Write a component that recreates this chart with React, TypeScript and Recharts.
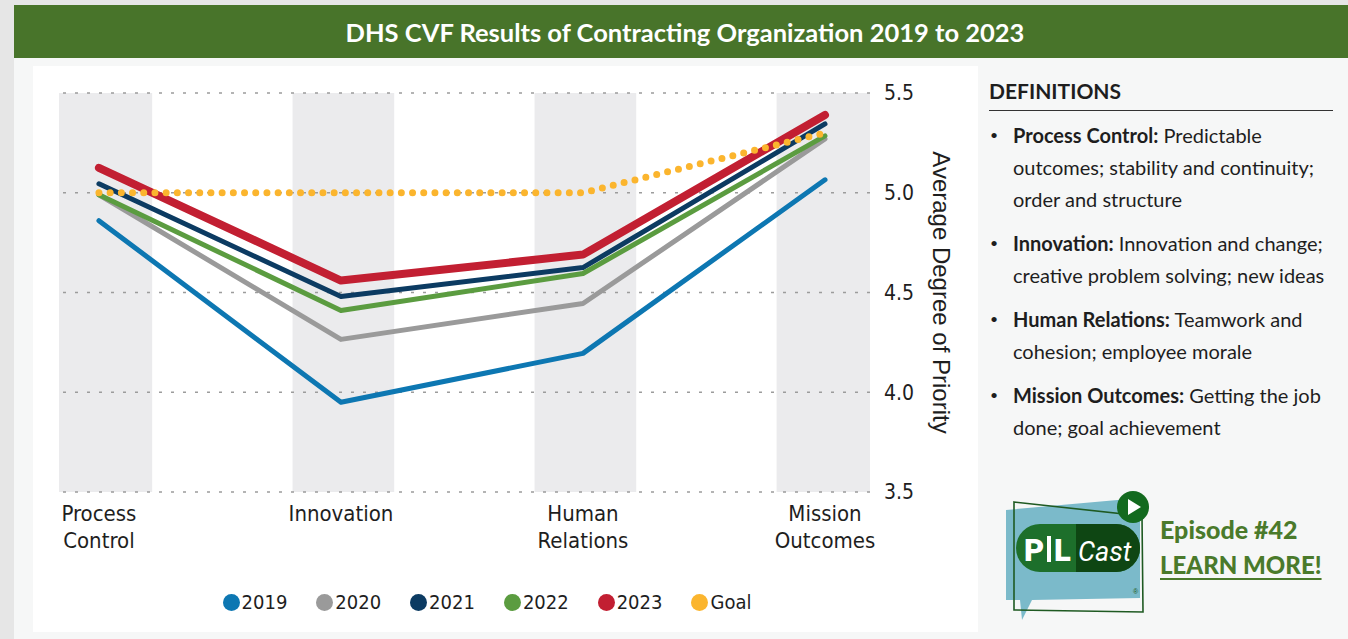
import React from 'react';
import { LineChart, Line, XAxis, YAxis, ReferenceArea, ReferenceLine, Legend, Label } from 'recharts';

// categories and yearly averages
const categories = ['Process\nControl', 'Innovation', 'Human\nRelations', 'Mission\nOutcomes'];
const y2019 = [4.86, 3.95, 4.195, 5.065];
const y2020 = [4.99, 4.265, 4.445, 5.27];
const y2021 = [5.045, 4.48, 4.625, 5.345];
const y2022 = [4.99, 4.41, 4.595, 5.285];
const y2023 = [5.125, 4.56, 4.69, 5.39];
const goal = [5.0, 5.0, 5.0, 5.3];
const yTicks = [3.5, 4.0, 4.5, 5.0, 5.5];

const definitions = [
  { term: 'Process Control:', text: 'Predictable outcomes; stability and continuity; order and structure' },
  { term: 'Innovation:', text: 'Innovation and change; creative problem solving; new ideas' },
  { term: 'Human Relations:', text: 'Teamwork and cohesion; employee morale' },
  { term: 'Mission Outcomes:', text: 'Getting the job done; goal achievement' },
];

const series = [
  { key: 'y2019', name: '2019', color: '#0d77b2', width: 5 },
  { key: 'y2020', name: '2020', color: '#9a9a9a', width: 5 },
  { key: 'y2021', name: '2021', color: '#0c3b62', width: 5 },
  { key: 'y2022', name: '2022', color: '#5b9c40', width: 5 },
  { key: 'y2023', name: '2023', color: '#c21f32', width: 8 },
];
const goalColor = '#fbb52e';

const data = categories.map((name, i) => ({
  pos: i,
  name,
  y2019: y2019[i],
  y2020: y2020[i],
  y2021: y2021[i],
  y2022: y2022[i],
  y2023: y2023[i],
  goal: goal[i],
}));

const narrow = "'Liberation Sans Narrow', 'DejaVu Sans Condensed', 'Roboto', sans-serif";
const body = "Lato, 'Open Sans', sans-serif";

function CategoryTick(props: any) {
  const { x, y, payload } = props;
  const lines = categories[payload.value].split('\n');
  return (
    <text x={x} y={y} textAnchor="middle" fontFamily={narrow} fontSize={22} fill="#1e1e1e">
      {lines.map((l, i) => (
        <tspan key={i} x={x} dy={i === 0 ? 21 : 27}>
          {l}
        </tspan>
      ))}
    </text>
  );
}

function LegendRow() {
  const items = [...series.map((s) => ({ name: s.name, color: s.color })), { name: 'Goal', color: goalColor }];
  return (
    <div style={{ display: 'flex', justifyContent: 'center', alignItems: 'center', height: 24, gap: 29 }}>
      {items.map((it) => (
        <div key={it.name} style={{ display: 'flex', alignItems: 'center' }}>
          <span style={{ width: 17, height: 17, borderRadius: '50%', background: it.color, marginRight: 2 }} />
          <span style={{ fontFamily: narrow, fontSize: 20, color: '#1e1e1e' }}>{it.name}</span>
        </div>
      ))}
    </div>
  );
}

function PilCastLogo() {
  return (
    <svg width={150} height={135} viewBox="0 0 150 135" style={{ position: 'absolute', left: 1002, top: 490 }}>
      <path d="M4 20 L138 8 L138 108 L30 110 L20 130 L18 110 L4 110 Z" fill="#7bbaca" />
      <path d="M12 12 L140 26 L141 122 L12 120 Z" fill="none" stroke="#1f5a22" strokeWidth={1.6} />
      <rect x={14} y={34} width={124} height={48} rx={24} fill="#1d6f2b" />
      <path d="M74 34 H114 A24 24 0 0 1 114 82 H74 Z" fill="#0e4613" />
      <text x={22} y={71} fontFamily="Roboto, sans-serif" fontWeight={900} fontSize={31} fill="#fff">P</text>
      <rect x={45} y={46} width={4} height={26} fill="#fff" />
      <text x={52} y={71} fontFamily="Roboto, sans-serif" fontWeight={900} fontSize={31} fill="#fff">L</text>
      <text x={76} y={71} fontFamily="Roboto, sans-serif" fontStyle="italic" fontSize={27} fill="#fff">Cast</text>
      <circle cx={131} cy={17} r={16} fill="#136a1f" />
      <path d="M126 9 L139 17 L126 25 Z" fill="#fff" />
      <text x={131} y={104} fontSize={7} fill="#1f5a22" fontFamily="sans-serif">®</text>
    </svg>
  );
}

export default function App() {
  return (
    <div
      style={{
        position: 'absolute',
        left: 0,
        top: 0,
        width: 1348,
        height: 639,
        background: '#e6e6e6',
        overflow: 'hidden',
        fontFamily: body,
      }}
    >
      <div
        style={{
          position: 'absolute',
          left: 14,
          top: 5,
          right: 0,
          height: 53,
          background: '#48742a',
          color: '#fff',
          display: 'flex',
          alignItems: 'center',
          justifyContent: 'center',
          fontWeight: 700,
          fontSize: 25.5,
          paddingLeft: 8,
          boxSizing: 'border-box',
        }}
      >
        DHS CVF Results of Contracting Organization 2019 to 2023
      </div>
      <div style={{ position: 'absolute', left: 14, top: 58, right: 0, bottom: 0, background: '#f6f7f7' }} />
      <div style={{ position: 'absolute', left: 33, top: 66, width: 945, height: 566, background: '#fff' }}>
        <LineChart width={945} height={566} data={data} margin={{ top: 27, right: 0, bottom: 18, left: 26 }}>
          {data.map((d) => (
            <ReferenceArea
              key={'band' + d.pos}
              x1={d.pos - 0.2}
              x2={d.pos + 0.22}
              y1={3.5}
              y2={5.5}
              fill="#ebebed"
              fillOpacity={1}
              stroke="none"
              ifOverflow="hidden"
            />
          ))}
          {yTicks.map((t) => (
            <ReferenceLine key={'grid' + t} y={t} stroke="#9c9c9c" strokeWidth={1.5} strokeDasharray="3 9" />
          ))}
          <XAxis
            dataKey="pos"
            type="number"
            domain={[-0.165, 3.186]}
            ticks={[0, 1, 2, 3]}
            allowDataOverflow
            axisLine={false}
            tickLine={false}
            height={98}
            interval={0}
            tick={<CategoryTick />}
          />
          <YAxis
            orientation="right"
            type="number"
            domain={[3.5, 5.5]}
            ticks={yTicks}
            width={108}
            axisLine={false}
            tickLine={false}
            tickMargin={8}
            tickFormatter={(v: number) => v.toFixed(1)}
            tick={{ fontFamily: narrow, fontSize: 21, fill: '#1e1e1e' }}
          >
            <Label
              content={(p: any) => {
                const vb = p.viewBox;
                const cx = vb.x + 71;
                const cy = vb.y + vb.height / 2;
                return (
                  <text
                    x={cx}
                    y={cy}
                    transform={`rotate(90 ${cx} ${cy})`}
                    textAnchor="middle"
                    dominantBaseline="central"
                    fontFamily="'Liberation Sans', Arial, sans-serif"
                    fontSize={24}
                    fill="#1e1e1e"
                  >
                    Average Degree of Priority
                  </text>
                );
              }}
            />
          </YAxis>
          <Legend verticalAlign="bottom" wrapperStyle={{ left: 0, width: 908 }} content={() => <LegendRow />} />
          {series.map((s) => (
            <Line
              key={s.key}
              type="linear"
              dataKey={s.key}
              name={s.name}
              stroke={s.color}
              strokeWidth={s.width}
              strokeLinecap="round"
              strokeLinejoin="round"
              dot={false}
              activeDot={false}
              isAnimationActive={false}
            />
          ))}
          <Line
            type="linear"
            dataKey="goal"
            name="Goal"
            stroke={goalColor}
            strokeWidth={7}
            strokeDasharray="0 11.2"
            strokeLinecap="round"
            dot={false}
            activeDot={false}
            isAnimationActive={false}
          />
        </LineChart>
      </div>

      <div style={{ position: 'absolute', left: 989, top: 78, width: 344, color: '#1e1e1e' }}>
        <div style={{ fontWeight: 700, fontSize: 21, lineHeight: '26px', paddingBottom: 6, borderBottom: '1.5px solid #333' }}>
          DEFINITIONS
        </div>
        <div style={{ marginTop: 8 }}>
          {definitions.map((d) => (
            <div key={d.term} style={{ display: 'flex', fontSize: 20, lineHeight: '32px', marginBottom: 12 }}>
              <div style={{ width: 23, flex: 'none', fontSize: 14, paddingLeft: 1 }}>•</div>
              <div style={{ flex: 1 }}>
                <b>{d.term}</b> {d.text}
              </div>
            </div>
          ))}
        </div>
      </div>

      <PilCastLogo />
      <div style={{ position: 'absolute', left: 1160, top: 514, color: '#4a7a2b', fontWeight: 900, fontSize: 25, lineHeight: '30px' }}>
        Episode #42
      </div>
      <div
        style={{
          position: 'absolute',
          left: 1160,
          top: 550,
          color: '#4a7a2b',
          fontWeight: 900,
          fontSize: 24,
          lineHeight: '30px',
          textDecoration: 'underline',
          textUnderlineOffset: 4,
        }}
      >
        LEARN MORE!
      </div>
    </div>
  );
}
